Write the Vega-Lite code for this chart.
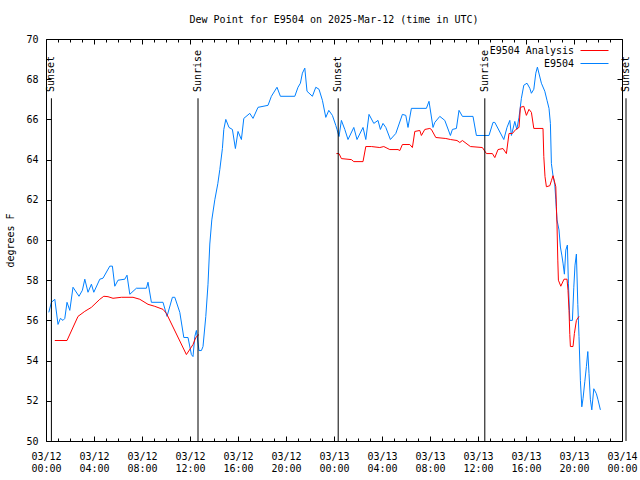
{
  "$schema": "https://vega.github.io/schema/vega-lite/v6.json",
  "width": 576,
  "height": 402,
  "autosize": {"type": "none"},
  "padding": {"left": 46, "top": 39, "right": 18, "bottom": 39},
  "background": "white",
  "title": {"text": "Dew Point for E9504 on 2025-Mar-12 (time in UTC)", "font": "DejaVu Sans Mono", "fontSize": 10, "fontWeight": "normal", "color": "black", "offset": 9},
  "datasets": {
    "obs": [
      {"series": "E9504", "seg": "a", "time": "2025-03-12T00:14:00Z", "value": 56.4},
      {"series": "E9504", "seg": "a", "time": "2025-03-12T00:27:00Z", "value": 56.9},
      {"series": "E9504", "seg": "a", "time": "2025-03-12T00:44:00Z", "value": 57.05},
      {"series": "E9504", "seg": "a", "time": "2025-03-12T01:00:00Z", "value": 55.8},
      {"series": "E9504", "seg": "a", "time": "2025-03-12T01:12:00Z", "value": 56.1},
      {"series": "E9504", "seg": "a", "time": "2025-03-12T01:25:00Z", "value": 56.0},
      {"series": "E9504", "seg": "a", "time": "2025-03-12T01:34:00Z", "value": 56.1},
      {"series": "E9504", "seg": "a", "time": "2025-03-12T01:45:00Z", "value": 56.9},
      {"series": "E9504", "seg": "a", "time": "2025-03-12T01:59:00Z", "value": 56.5},
      {"series": "E9504", "seg": "a", "time": "2025-03-12T02:15:00Z", "value": 57.65},
      {"series": "E9504", "seg": "a", "time": "2025-03-12T02:45:00Z", "value": 57.2},
      {"series": "E9504", "seg": "a", "time": "2025-03-12T03:02:00Z", "value": 57.5},
      {"series": "E9504", "seg": "a", "time": "2025-03-12T03:14:00Z", "value": 58.05},
      {"series": "E9504", "seg": "a", "time": "2025-03-12T03:30:00Z", "value": 57.4},
      {"series": "E9504", "seg": "a", "time": "2025-03-12T03:47:00Z", "value": 57.8},
      {"series": "E9504", "seg": "a", "time": "2025-03-12T03:59:00Z", "value": 57.4},
      {"series": "E9504", "seg": "a", "time": "2025-03-12T04:29:00Z", "value": 58.05},
      {"series": "E9504", "seg": "a", "time": "2025-03-12T04:45:00Z", "value": 58.1},
      {"series": "E9504", "seg": "a", "time": "2025-03-12T05:19:00Z", "value": 58.7},
      {"series": "E9504", "seg": "a", "time": "2025-03-12T05:32:00Z", "value": 58.7},
      {"series": "E9504", "seg": "a", "time": "2025-03-12T05:44:00Z", "value": 57.7},
      {"series": "E9504", "seg": "a", "time": "2025-03-12T06:00:00Z", "value": 58.0},
      {"series": "E9504", "seg": "a", "time": "2025-03-12T06:34:00Z", "value": 58.05},
      {"series": "E9504", "seg": "a", "time": "2025-03-12T06:45:00Z", "value": 58.25},
      {"series": "E9504", "seg": "a", "time": "2025-03-12T06:59:00Z", "value": 57.3},
      {"series": "E9504", "seg": "a", "time": "2025-03-12T07:32:00Z", "value": 57.6},
      {"series": "E9504", "seg": "a", "time": "2025-03-12T08:22:00Z", "value": 57.6},
      {"series": "E9504", "seg": "a", "time": "2025-03-12T08:30:00Z", "value": 57.9},
      {"series": "E9504", "seg": "a", "time": "2025-03-12T08:47:00Z", "value": 56.9},
      {"series": "E9504", "seg": "a", "time": "2025-03-12T09:45:00Z", "value": 56.9},
      {"series": "E9504", "seg": "a", "time": "2025-03-12T10:05:00Z", "value": 56.2},
      {"series": "E9504", "seg": "a", "time": "2025-03-12T10:32:00Z", "value": 57.15},
      {"series": "E9504", "seg": "a", "time": "2025-03-12T10:44:00Z", "value": 57.15},
      {"series": "E9504", "seg": "a", "time": "2025-03-12T11:09:00Z", "value": 56.4},
      {"series": "E9504", "seg": "a", "time": "2025-03-12T11:29:00Z", "value": 55.15},
      {"series": "E9504", "seg": "a", "time": "2025-03-12T11:50:00Z", "value": 55.15},
      {"series": "E9504", "seg": "a", "time": "2025-03-12T12:07:00Z", "value": 54.3},
      {"series": "E9504", "seg": "a", "time": "2025-03-12T12:15:00Z", "value": 54.2},
      {"series": "E9504", "seg": "a", "time": "2025-03-12T12:24:00Z", "value": 55.2},
      {"series": "E9504", "seg": "a", "time": "2025-03-12T12:32:00Z", "value": 55.5},
      {"series": "E9504", "seg": "a", "time": "2025-03-12T12:45:00Z", "value": 54.5},
      {"series": "E9504", "seg": "a", "time": "2025-03-12T12:57:00Z", "value": 54.5},
      {"series": "E9504", "seg": "a", "time": "2025-03-12T13:05:00Z", "value": 54.7},
      {"series": "E9504", "seg": "a", "time": "2025-03-12T13:19:00Z", "value": 56.2},
      {"series": "E9504", "seg": "a", "time": "2025-03-12T13:30:00Z", "value": 57.8},
      {"series": "E9504", "seg": "a", "time": "2025-03-12T13:39:00Z", "value": 59.8},
      {"series": "E9504", "seg": "a", "time": "2025-03-12T13:49:00Z", "value": 61.0},
      {"series": "E9504", "seg": "a", "time": "2025-03-12T14:04:00Z", "value": 62.0},
      {"series": "E9504", "seg": "a", "time": "2025-03-12T14:19:00Z", "value": 62.8},
      {"series": "E9504", "seg": "a", "time": "2025-03-12T14:29:00Z", "value": 63.5},
      {"series": "E9504", "seg": "a", "time": "2025-03-12T14:42:00Z", "value": 64.55},
      {"series": "E9504", "seg": "a", "time": "2025-03-12T14:49:00Z", "value": 65.5},
      {"series": "E9504", "seg": "a", "time": "2025-03-12T14:59:00Z", "value": 66.0},
      {"series": "E9504", "seg": "a", "time": "2025-03-12T15:15:00Z", "value": 65.6},
      {"series": "E9504", "seg": "a", "time": "2025-03-12T15:32:00Z", "value": 65.5},
      {"series": "E9504", "seg": "a", "time": "2025-03-12T15:47:00Z", "value": 64.55},
      {"series": "E9504", "seg": "a", "time": "2025-03-12T16:00:00Z", "value": 65.4},
      {"series": "E9504", "seg": "a", "time": "2025-03-12T16:17:00Z", "value": 65.0},
      {"series": "E9504", "seg": "a", "time": "2025-03-12T16:29:00Z", "value": 66.05},
      {"series": "E9504", "seg": "a", "time": "2025-03-12T16:59:00Z", "value": 66.3},
      {"series": "E9504", "seg": "a", "time": "2025-03-12T17:15:00Z", "value": 66.05},
      {"series": "E9504", "seg": "a", "time": "2025-03-12T17:40:00Z", "value": 66.6},
      {"series": "E9504", "seg": "a", "time": "2025-03-12T18:30:00Z", "value": 66.7},
      {"series": "E9504", "seg": "a", "time": "2025-03-12T18:47:00Z", "value": 67.15},
      {"series": "E9504", "seg": "a", "time": "2025-03-12T19:15:00Z", "value": 67.6},
      {"series": "E9504", "seg": "a", "time": "2025-03-12T19:32:00Z", "value": 67.15},
      {"series": "E9504", "seg": "a", "time": "2025-03-12T20:44:00Z", "value": 67.15},
      {"series": "E9504", "seg": "a", "time": "2025-03-12T21:00:00Z", "value": 67.6},
      {"series": "E9504", "seg": "a", "time": "2025-03-12T21:12:00Z", "value": 67.8},
      {"series": "E9504", "seg": "a", "time": "2025-03-12T21:22:00Z", "value": 68.3},
      {"series": "E9504", "seg": "a", "time": "2025-03-12T21:34:00Z", "value": 68.55},
      {"series": "E9504", "seg": "a", "time": "2025-03-12T21:45:00Z", "value": 67.4},
      {"series": "E9504", "seg": "a", "time": "2025-03-12T22:12:00Z", "value": 67.15},
      {"series": "E9504", "seg": "a", "time": "2025-03-12T22:29:00Z", "value": 67.6},
      {"series": "E9504", "seg": "a", "time": "2025-03-12T22:45:00Z", "value": 67.5},
      {"series": "E9504", "seg": "a", "time": "2025-03-12T23:02:00Z", "value": 66.95},
      {"series": "E9504", "seg": "a", "time": "2025-03-12T23:19:00Z", "value": 66.1},
      {"series": "E9504", "seg": "a", "time": "2025-03-12T23:34:00Z", "value": 66.45},
      {"series": "E9504", "seg": "a", "time": "2025-03-12T23:52:00Z", "value": 66.2},
      {"series": "E9504", "seg": "a", "time": "2025-03-13T00:09:00Z", "value": 65.7},
      {"series": "E9504", "seg": "a", "time": "2025-03-13T00:15:00Z", "value": 65.5},
      {"series": "E9504", "seg": "a", "time": "2025-03-13T00:25:00Z", "value": 65.15},
      {"series": "E9504", "seg": "a", "time": "2025-03-13T00:37:00Z", "value": 65.95},
      {"series": "E9504", "seg": "a", "time": "2025-03-13T00:54:00Z", "value": 65.5},
      {"series": "E9504", "seg": "a", "time": "2025-03-13T01:10:00Z", "value": 65.0},
      {"series": "E9504", "seg": "a", "time": "2025-03-13T01:39:00Z", "value": 65.6},
      {"series": "E9504", "seg": "a", "time": "2025-03-13T01:55:00Z", "value": 65.0},
      {"series": "E9504", "seg": "a", "time": "2025-03-13T02:25:00Z", "value": 65.6},
      {"series": "E9504", "seg": "a", "time": "2025-03-13T02:39:00Z", "value": 65.0},
      {"series": "E9504", "seg": "a", "time": "2025-03-13T02:55:00Z", "value": 66.25},
      {"series": "E9504", "seg": "a", "time": "2025-03-13T03:19:00Z", "value": 65.8},
      {"series": "E9504", "seg": "a", "time": "2025-03-13T03:40:00Z", "value": 65.95},
      {"series": "E9504", "seg": "a", "time": "2025-03-13T03:52:00Z", "value": 65.5},
      {"series": "E9504", "seg": "a", "time": "2025-03-13T04:05:00Z", "value": 65.8},
      {"series": "E9504", "seg": "a", "time": "2025-03-13T04:19:00Z", "value": 65.6},
      {"series": "E9504", "seg": "a", "time": "2025-03-13T04:42:00Z", "value": 65.0},
      {"series": "E9504", "seg": "a", "time": "2025-03-13T05:09:00Z", "value": 65.3},
      {"series": "E9504", "seg": "a", "time": "2025-03-13T05:42:00Z", "value": 66.25},
      {"series": "E9504", "seg": "a", "time": "2025-03-13T05:59:00Z", "value": 66.2},
      {"series": "E9504", "seg": "a", "time": "2025-03-13T06:10:00Z", "value": 65.6},
      {"series": "E9504", "seg": "a", "time": "2025-03-13T06:27:00Z", "value": 66.55},
      {"series": "E9504", "seg": "a", "time": "2025-03-13T07:42:00Z", "value": 66.55},
      {"series": "E9504", "seg": "a", "time": "2025-03-13T07:55:00Z", "value": 66.9},
      {"series": "E9504", "seg": "a", "time": "2025-03-13T08:15:00Z", "value": 65.6},
      {"series": "E9504", "seg": "a", "time": "2025-03-13T08:24:00Z", "value": 65.85},
      {"series": "E9504", "seg": "a", "time": "2025-03-13T08:49:00Z", "value": 66.15},
      {"series": "E9504", "seg": "a", "time": "2025-03-13T09:14:00Z", "value": 65.95},
      {"series": "E9504", "seg": "a", "time": "2025-03-13T09:42:00Z", "value": 65.2},
      {"series": "E9504", "seg": "a", "time": "2025-03-13T09:52:00Z", "value": 65.5},
      {"series": "E9504", "seg": "a", "time": "2025-03-13T10:12:00Z", "value": 65.55},
      {"series": "E9504", "seg": "a", "time": "2025-03-13T10:25:00Z", "value": 66.45},
      {"series": "E9504", "seg": "a", "time": "2025-03-13T10:42:00Z", "value": 66.15},
      {"series": "E9504", "seg": "a", "time": "2025-03-13T11:35:00Z", "value": 66.15},
      {"series": "E9504", "seg": "a", "time": "2025-03-13T11:52:00Z", "value": 65.2},
      {"series": "E9504", "seg": "a", "time": "2025-03-13T12:55:00Z", "value": 65.2},
      {"series": "E9504", "seg": "a", "time": "2025-03-13T13:15:00Z", "value": 65.85},
      {"series": "E9504", "seg": "a", "time": "2025-03-13T13:24:00Z", "value": 65.85},
      {"series": "E9504", "seg": "a", "time": "2025-03-13T14:09:00Z", "value": 65.0},
      {"series": "E9504", "seg": "a", "time": "2025-03-13T14:25:00Z", "value": 65.6},
      {"series": "E9504", "seg": "a", "time": "2025-03-13T14:39:00Z", "value": 65.95},
      {"series": "E9504", "seg": "a", "time": "2025-03-13T14:47:00Z", "value": 65.2},
      {"series": "E9504", "seg": "a", "time": "2025-03-13T15:04:00Z", "value": 65.9},
      {"series": "E9504", "seg": "a", "time": "2025-03-13T15:14:00Z", "value": 65.5},
      {"series": "E9504", "seg": "a", "time": "2025-03-13T15:25:00Z", "value": 66.1},
      {"series": "E9504", "seg": "a", "time": "2025-03-13T15:37:00Z", "value": 67.05},
      {"series": "E9504", "seg": "a", "time": "2025-03-13T15:49:00Z", "value": 67.7},
      {"series": "E9504", "seg": "a", "time": "2025-03-13T16:05:00Z", "value": 67.8},
      {"series": "E9504", "seg": "a", "time": "2025-03-13T16:19:00Z", "value": 67.55},
      {"series": "E9504", "seg": "a", "time": "2025-03-13T16:27:00Z", "value": 67.3},
      {"series": "E9504", "seg": "a", "time": "2025-03-13T16:39:00Z", "value": 67.5},
      {"series": "E9504", "seg": "a", "time": "2025-03-13T16:49:00Z", "value": 68.3},
      {"series": "E9504", "seg": "a", "time": "2025-03-13T16:57:00Z", "value": 68.6},
      {"series": "E9504", "seg": "a", "time": "2025-03-13T17:17:00Z", "value": 67.8},
      {"series": "E9504", "seg": "a", "time": "2025-03-13T17:34:00Z", "value": 67.4},
      {"series": "E9504", "seg": "a", "time": "2025-03-13T17:45:00Z", "value": 66.95},
      {"series": "E9504", "seg": "a", "time": "2025-03-13T17:55:00Z", "value": 66.55},
      {"series": "E9504", "seg": "a", "time": "2025-03-13T18:02:00Z", "value": 65.8},
      {"series": "E9504", "seg": "a", "time": "2025-03-13T18:07:00Z", "value": 63.8},
      {"series": "E9504", "seg": "a", "time": "2025-03-13T18:15:00Z", "value": 63.2},
      {"series": "E9504", "seg": "a", "time": "2025-03-13T18:24:00Z", "value": 62.75},
      {"series": "E9504", "seg": "a", "time": "2025-03-13T18:29:00Z", "value": 62.0},
      {"series": "E9504", "seg": "a", "time": "2025-03-13T18:35:00Z", "value": 61.0},
      {"series": "E9504", "seg": "a", "time": "2025-03-13T18:45:00Z", "value": 60.5},
      {"series": "E9504", "seg": "a", "time": "2025-03-13T18:52:00Z", "value": 59.65},
      {"series": "E9504", "seg": "a", "time": "2025-03-13T18:59:00Z", "value": 59.25},
      {"series": "E9504", "seg": "a", "time": "2025-03-13T19:05:00Z", "value": 58.85},
      {"series": "E9504", "seg": "a", "time": "2025-03-13T19:12:00Z", "value": 58.3},
      {"series": "E9504", "seg": "a", "time": "2025-03-13T19:19:00Z", "value": 59.5},
      {"series": "E9504", "seg": "a", "time": "2025-03-13T19:27:00Z", "value": 59.75},
      {"series": "E9504", "seg": "a", "time": "2025-03-13T19:32:00Z", "value": 57.85},
      {"series": "E9504", "seg": "a", "time": "2025-03-13T19:39:00Z", "value": 56.0},
      {"series": "E9504", "seg": "a", "time": "2025-03-13T19:52:00Z", "value": 56.0},
      {"series": "E9504", "seg": "a", "time": "2025-03-13T19:59:00Z", "value": 57.65},
      {"series": "E9504", "seg": "a", "time": "2025-03-13T20:05:00Z", "value": 58.75},
      {"series": "E9504", "seg": "a", "time": "2025-03-13T20:12:00Z", "value": 59.3},
      {"series": "E9504", "seg": "a", "time": "2025-03-13T20:19:00Z", "value": 56.8},
      {"series": "E9504", "seg": "a", "time": "2025-03-13T20:25:00Z", "value": 55.2},
      {"series": "E9504", "seg": "a", "time": "2025-03-13T20:32:00Z", "value": 53.0},
      {"series": "E9504", "seg": "a", "time": "2025-03-13T20:39:00Z", "value": 51.7},
      {"series": "E9504", "seg": "a", "time": "2025-03-13T20:45:00Z", "value": 52.1},
      {"series": "E9504", "seg": "a", "time": "2025-03-13T20:54:00Z", "value": 52.95},
      {"series": "E9504", "seg": "a", "time": "2025-03-13T21:02:00Z", "value": 53.7},
      {"series": "E9504", "seg": "a", "time": "2025-03-13T21:09:00Z", "value": 54.45},
      {"series": "E9504", "seg": "a", "time": "2025-03-13T21:15:00Z", "value": 53.35},
      {"series": "E9504", "seg": "a", "time": "2025-03-13T21:22:00Z", "value": 52.05},
      {"series": "E9504", "seg": "a", "time": "2025-03-13T21:29:00Z", "value": 51.55},
      {"series": "E9504", "seg": "a", "time": "2025-03-13T21:39:00Z", "value": 52.6},
      {"series": "E9504", "seg": "a", "time": "2025-03-13T21:52:00Z", "value": 52.35},
      {"series": "E9504", "seg": "a", "time": "2025-03-13T22:00:00Z", "value": 52.05},
      {"series": "E9504", "seg": "a", "time": "2025-03-13T22:12:00Z", "value": 51.55},
      {"series": "E9504 Analysis", "seg": "b", "time": "2025-03-12T00:44:00Z", "value": 55.0},
      {"series": "E9504 Analysis", "seg": "b", "time": "2025-03-12T01:45:00Z", "value": 55.0},
      {"series": "E9504 Analysis", "seg": "b", "time": "2025-03-12T02:40:00Z", "value": 56.2},
      {"series": "E9504 Analysis", "seg": "b", "time": "2025-03-12T03:14:00Z", "value": 56.45},
      {"series": "E9504 Analysis", "seg": "b", "time": "2025-03-12T03:47:00Z", "value": 56.65},
      {"series": "E9504 Analysis", "seg": "b", "time": "2025-03-12T04:29:00Z", "value": 57.05},
      {"series": "E9504 Analysis", "seg": "b", "time": "2025-03-12T04:49:00Z", "value": 57.2},
      {"series": "E9504 Analysis", "seg": "b", "time": "2025-03-12T05:10:00Z", "value": 57.18},
      {"series": "E9504 Analysis", "seg": "b", "time": "2025-03-12T05:35:00Z", "value": 57.1},
      {"series": "E9504 Analysis", "seg": "b", "time": "2025-03-12T06:17:00Z", "value": 57.15},
      {"series": "E9504 Analysis", "seg": "b", "time": "2025-03-12T07:15:00Z", "value": 57.15},
      {"series": "E9504 Analysis", "seg": "b", "time": "2025-03-12T07:49:00Z", "value": 57.05},
      {"series": "E9504 Analysis", "seg": "b", "time": "2025-03-12T08:30:00Z", "value": 56.8},
      {"series": "E9504 Analysis", "seg": "b", "time": "2025-03-12T09:04:00Z", "value": 56.7},
      {"series": "E9504 Analysis", "seg": "b", "time": "2025-03-12T09:45:00Z", "value": 56.55},
      {"series": "E9504 Analysis", "seg": "b", "time": "2025-03-12T10:02:00Z", "value": 56.35},
      {"series": "E9504 Analysis", "seg": "b", "time": "2025-03-12T11:42:00Z", "value": 54.3},
      {"series": "E9504 Analysis", "seg": "b", "time": "2025-03-12T12:15:00Z", "value": 54.8},
      {"series": "E9504 Analysis", "seg": "b", "time": "2025-03-12T12:29:00Z", "value": 55.15},
      {"series": "E9504 Analysis", "seg": "b", "time": "2025-03-12T12:45:00Z", "value": 55.3},
      {"series": "E9504 Analysis", "seg": "c", "time": "2025-03-13T00:12:00Z", "value": 64.3},
      {"series": "E9504 Analysis", "seg": "c", "time": "2025-03-13T00:25:00Z", "value": 64.3},
      {"series": "E9504 Analysis", "seg": "c", "time": "2025-03-13T00:37:00Z", "value": 64.05},
      {"series": "E9504 Analysis", "seg": "c", "time": "2025-03-13T01:27:00Z", "value": 64.0},
      {"series": "E9504 Analysis", "seg": "c", "time": "2025-03-13T01:39:00Z", "value": 63.9},
      {"series": "E9504 Analysis", "seg": "c", "time": "2025-03-13T02:25:00Z", "value": 63.9},
      {"series": "E9504 Analysis", "seg": "c", "time": "2025-03-13T02:39:00Z", "value": 64.65},
      {"series": "E9504 Analysis", "seg": "c", "time": "2025-03-13T03:07:00Z", "value": 64.65},
      {"series": "E9504 Analysis", "seg": "c", "time": "2025-03-13T03:49:00Z", "value": 64.6},
      {"series": "E9504 Analysis", "seg": "c", "time": "2025-03-13T04:09:00Z", "value": 64.65},
      {"series": "E9504 Analysis", "seg": "c", "time": "2025-03-13T04:39:00Z", "value": 64.5},
      {"series": "E9504 Analysis", "seg": "c", "time": "2025-03-13T05:20:00Z", "value": 64.5},
      {"series": "E9504 Analysis", "seg": "c", "time": "2025-03-13T05:29:00Z", "value": 64.45},
      {"series": "E9504 Analysis", "seg": "c", "time": "2025-03-13T05:42:00Z", "value": 64.75},
      {"series": "E9504 Analysis", "seg": "c", "time": "2025-03-13T06:19:00Z", "value": 64.75},
      {"series": "E9504 Analysis", "seg": "c", "time": "2025-03-13T06:32:00Z", "value": 64.6},
      {"series": "E9504 Analysis", "seg": "c", "time": "2025-03-13T06:44:00Z", "value": 65.4},
      {"series": "E9504 Analysis", "seg": "c", "time": "2025-03-13T07:09:00Z", "value": 65.45},
      {"series": "E9504 Analysis", "seg": "c", "time": "2025-03-13T07:17:00Z", "value": 65.2},
      {"series": "E9504 Analysis", "seg": "c", "time": "2025-03-13T07:34:00Z", "value": 65.5},
      {"series": "E9504 Analysis", "seg": "c", "time": "2025-03-13T07:59:00Z", "value": 65.55},
      {"series": "E9504 Analysis", "seg": "c", "time": "2025-03-13T08:07:00Z", "value": 65.5},
      {"series": "E9504 Analysis", "seg": "c", "time": "2025-03-13T08:29:00Z", "value": 65.1},
      {"series": "E9504 Analysis", "seg": "c", "time": "2025-03-13T09:19:00Z", "value": 65.05},
      {"series": "E9504 Analysis", "seg": "c", "time": "2025-03-13T09:42:00Z", "value": 65.0},
      {"series": "E9504 Analysis", "seg": "c", "time": "2025-03-13T10:15:00Z", "value": 64.95},
      {"series": "E9504 Analysis", "seg": "c", "time": "2025-03-13T10:29:00Z", "value": 64.85},
      {"series": "E9504 Analysis", "seg": "c", "time": "2025-03-13T10:42:00Z", "value": 64.95},
      {"series": "E9504 Analysis", "seg": "c", "time": "2025-03-13T11:22:00Z", "value": 64.65},
      {"series": "E9504 Analysis", "seg": "c", "time": "2025-03-13T12:22:00Z", "value": 64.6},
      {"series": "E9504 Analysis", "seg": "c", "time": "2025-03-13T12:42:00Z", "value": 64.3},
      {"series": "E9504 Analysis", "seg": "c", "time": "2025-03-13T13:12:00Z", "value": 64.3},
      {"series": "E9504 Analysis", "seg": "c", "time": "2025-03-13T13:24:00Z", "value": 64.1},
      {"series": "E9504 Analysis", "seg": "c", "time": "2025-03-13T13:40:00Z", "value": 64.5},
      {"series": "E9504 Analysis", "seg": "c", "time": "2025-03-13T14:05:00Z", "value": 64.55},
      {"series": "E9504 Analysis", "seg": "c", "time": "2025-03-13T14:22:00Z", "value": 64.3},
      {"series": "E9504 Analysis", "seg": "c", "time": "2025-03-13T14:35:00Z", "value": 65.3},
      {"series": "E9504 Analysis", "seg": "c", "time": "2025-03-13T14:52:00Z", "value": 65.3},
      {"series": "E9504 Analysis", "seg": "c", "time": "2025-03-13T15:09:00Z", "value": 65.5},
      {"series": "E9504 Analysis", "seg": "c", "time": "2025-03-13T15:25:00Z", "value": 65.6},
      {"series": "E9504 Analysis", "seg": "c", "time": "2025-03-13T15:32:00Z", "value": 66.6},
      {"series": "E9504 Analysis", "seg": "c", "time": "2025-03-13T15:49:00Z", "value": 66.65},
      {"series": "E9504 Analysis", "seg": "c", "time": "2025-03-13T16:02:00Z", "value": 66.2},
      {"series": "E9504 Analysis", "seg": "c", "time": "2025-03-13T16:15:00Z", "value": 66.5},
      {"series": "E9504 Analysis", "seg": "c", "time": "2025-03-13T16:27:00Z", "value": 66.35},
      {"series": "E9504 Analysis", "seg": "c", "time": "2025-03-13T16:39:00Z", "value": 65.55},
      {"series": "E9504 Analysis", "seg": "c", "time": "2025-03-13T17:25:00Z", "value": 65.55},
      {"series": "E9504 Analysis", "seg": "c", "time": "2025-03-13T17:29:00Z", "value": 64.15},
      {"series": "E9504 Analysis", "seg": "c", "time": "2025-03-13T17:35:00Z", "value": 63.15},
      {"series": "E9504 Analysis", "seg": "c", "time": "2025-03-13T17:42:00Z", "value": 62.65},
      {"series": "E9504 Analysis", "seg": "c", "time": "2025-03-13T17:59:00Z", "value": 62.7},
      {"series": "E9504 Analysis", "seg": "c", "time": "2025-03-13T18:07:00Z", "value": 62.95},
      {"series": "E9504 Analysis", "seg": "c", "time": "2025-03-13T18:15:00Z", "value": 63.2},
      {"series": "E9504 Analysis", "seg": "c", "time": "2025-03-13T18:29:00Z", "value": 62.65},
      {"series": "E9504 Analysis", "seg": "c", "time": "2025-03-13T18:32:00Z", "value": 61.65},
      {"series": "E9504 Analysis", "seg": "c", "time": "2025-03-13T18:35:00Z", "value": 60.75},
      {"series": "E9504 Analysis", "seg": "c", "time": "2025-03-13T18:39:00Z", "value": 59.0},
      {"series": "E9504 Analysis", "seg": "c", "time": "2025-03-13T18:42:00Z", "value": 58.0},
      {"series": "E9504 Analysis", "seg": "c", "time": "2025-03-13T18:54:00Z", "value": 57.7},
      {"series": "E9504 Analysis", "seg": "c", "time": "2025-03-13T19:10:00Z", "value": 58.05},
      {"series": "E9504 Analysis", "seg": "c", "time": "2025-03-13T19:25:00Z", "value": 58.05},
      {"series": "E9504 Analysis", "seg": "c", "time": "2025-03-13T19:30:00Z", "value": 57.5},
      {"series": "E9504 Analysis", "seg": "c", "time": "2025-03-13T19:35:00Z", "value": 56.5},
      {"series": "E9504 Analysis", "seg": "c", "time": "2025-03-13T19:39:00Z", "value": 55.3},
      {"series": "E9504 Analysis", "seg": "c", "time": "2025-03-13T19:42:00Z", "value": 54.7},
      {"series": "E9504 Analysis", "seg": "c", "time": "2025-03-13T19:55:00Z", "value": 54.7},
      {"series": "E9504 Analysis", "seg": "c", "time": "2025-03-13T20:02:00Z", "value": 55.35},
      {"series": "E9504 Analysis", "seg": "c", "time": "2025-03-13T20:12:00Z", "value": 56.0},
      {"series": "E9504 Analysis", "seg": "c", "time": "2025-03-13T20:25:00Z", "value": 56.2}
    ],
    "sun": [
      {"event": "Sunset", "time": "2025-03-12T00:27:00Z"},
      {"event": "Sunrise", "time": "2025-03-12T12:40:00Z"},
      {"event": "Sunset", "time": "2025-03-13T00:21:00Z"},
      {"event": "Sunrise", "time": "2025-03-13T12:34:00Z"},
      {"event": "Sunset", "time": "2025-03-14T00:20:00Z"}
    ]
  },
  "resolve": {"axis": {"x": "independent", "y": "independent"}},
  "layer": [
    {
      "data": {"name": "obs"},
      "mark": {"type": "line", "strokeWidth": 1, "interpolate": "linear"},
      "encoding": {
        "x": {
          "field": "time", "type": "temporal",
          "scale": {"type": "utc", "domain": [1741737600000, 1741910400000], "nice": false},
          "axis": {
            "orient": "bottom", "title": null, "domain": false,
            "values": [1741737600000, 1741741200000, 1741744800000, 1741748400000, 1741752000000, 1741755600000, 1741759200000, 1741762800000, 1741766400000, 1741770000000, 1741773600000, 1741777200000, 1741780800000, 1741784400000, 1741788000000, 1741791600000, 1741795200000, 1741798800000, 1741802400000, 1741806000000, 1741809600000, 1741813200000, 1741816800000, 1741820400000, 1741824000000, 1741827600000, 1741831200000, 1741834800000, 1741838400000, 1741842000000, 1741845600000, 1741849200000, 1741852800000, 1741856400000, 1741860000000, 1741863600000, 1741867200000, 1741870800000, 1741874400000, 1741878000000, 1741881600000, 1741885200000, 1741888800000, 1741892400000, 1741896000000, 1741899600000, 1741903200000, 1741906800000, 1741910400000],
            "tickSize": {"condition": {"test": "utchours(datum.value) % 4 === 0", "value": -5}, "value": -3},
            "labelExpr": "utchours(datum.value) % 4 === 0 ? [utcFormat(datum.value, '%m/%d'), utcFormat(datum.value, '%H:%M')] : ''",
            "labelOverlap": false, "labelFlush": false, "labelBound": false,
            "labelPadding": 15, "labelLineHeight": 12, "labelAlign": "center", "labelBaseline": "top"
          }
        },
        "y": {
          "field": "value", "type": "quantitative",
          "scale": {"domain": [50, 70], "nice": false, "zero": false},
          "axis": {
            "orient": "left", "title": "degrees F", "domain": false,
            "values": [50, 52, 54, 56, 58, 60, 62, 64, 66, 68, 70],
            "tickSize": -5, "labelPadding": 13, "titlePadding": 10
          }
        },
        "color": {
          "field": "series", "type": "nominal",
          "scale": {"domain": ["E9504 Analysis", "E9504"], "range": ["#ff0000", "#0080ff"]},
          "legend": {
            "orient": "none", "legendX": 543, "legendY": 6, "title": null, "padding": 0,
            "symbolType": "M-2.8,0H2.8", "symbolSize": 100, "symbolStrokeWidth": 1,
            "labelAlign": "right", "labelOffset": -26, "labelFont": "DejaVu Sans Mono", "labelFontSize": 10, "labelColor": "black",
            "rowPadding": 2
          }
        },
        "detail": {"field": "seg", "type": "nominal"}
      }
    },
    {
      "data": {"name": "sun"},
      "mark": {"type": "rule", "color": "black", "strokeWidth": 1},
      "encoding": {
        "x": {
          "field": "time", "type": "temporal",
          "axis": {
            "orient": "top", "title": null, "domain": false, "labels": false,
            "values": [1741737600000, 1741741200000, 1741744800000, 1741748400000, 1741752000000, 1741755600000, 1741759200000, 1741762800000, 1741766400000, 1741770000000, 1741773600000, 1741777200000, 1741780800000, 1741784400000, 1741788000000, 1741791600000, 1741795200000, 1741798800000, 1741802400000, 1741806000000, 1741809600000, 1741813200000, 1741816800000, 1741820400000, 1741824000000, 1741827600000, 1741831200000, 1741834800000, 1741838400000, 1741842000000, 1741845600000, 1741849200000, 1741852800000, 1741856400000, 1741860000000, 1741863600000, 1741867200000, 1741870800000, 1741874400000, 1741878000000, 1741881600000, 1741885200000, 1741888800000, 1741892400000, 1741896000000, 1741899600000, 1741903200000, 1741906800000, 1741910400000],
            "tickSize": {"condition": {"test": "utchours(datum.value) % 4 === 0", "value": -5}, "value": -3}
          }
        },
        "y": {
          "datum": 67.05, "type": "quantitative",
          "axis": {
            "orient": "right", "title": null, "domain": false, "labels": false,
            "values": [50, 52, 54, 56, 58, 60, 62, 64, 66, 68, 70],
            "tickSize": -5
          }
        },
        "y2": {"datum": 50}
      }
    },
    {
      "data": {"name": "sun"},
      "mark": {"type": "text", "angle": 270, "align": "left", "baseline": "middle", "font": "DejaVu Sans Mono", "fontSize": 10, "color": "black"},
      "encoding": {
        "x": {"field": "time", "type": "temporal", "axis": null},
        "y": {"datum": 67.36, "type": "quantitative", "axis": null},
        "text": {"field": "event"}
      }
    }
  ],
  "config": {
    "font": "DejaVu Sans Mono",
    "view": {"stroke": "black", "strokeWidth": 1},
    "axis": {
      "grid": false,
      "labelFont": "DejaVu Sans Mono", "labelFontSize": 10, "labelColor": "black",
      "tickColor": "black", "tickWidth": 1,
      "titleFont": "DejaVu Sans Mono", "titleFontSize": 10, "titleFontWeight": "normal", "titleColor": "black"
    }
  }
}
